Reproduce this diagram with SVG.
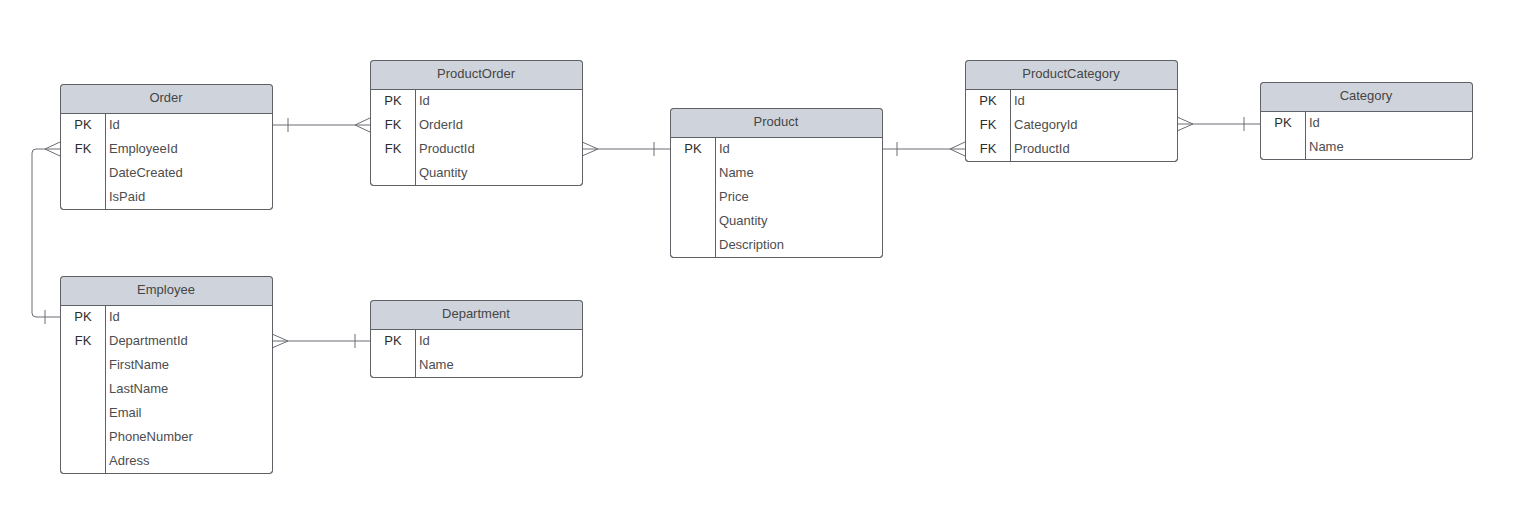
<svg xmlns="http://www.w3.org/2000/svg" width="1532" height="510" viewBox="0 0 1532 510">
<style>
.box{fill:#ffffff;stroke:#5f6166;stroke-width:1}
.frame{fill:none;stroke:#5f6166;stroke-width:1}
.hdr{fill:#cfd4dc;stroke:none}
.ln{stroke:#5f6166;stroke-width:1;fill:none}
.title{font-family:"Liberation Sans",Arial,sans-serif;font-size:13px;fill:#454545;text-anchor:middle}
.key{font-family:"Liberation Sans",Arial,sans-serif;font-size:13px;fill:#2e2e2e;text-anchor:middle}
.fld{font-family:"Liberation Sans",Arial,sans-serif;font-size:13px;fill:#4d4d4d}
.con{stroke:#6b6d72;stroke-width:1;fill:none}
</style>
<rect width="1532" height="510" fill="#ffffff"/>

<g id="connectors">
  <path class="con" d="M272 125 H370"/>
  <path class="con" d="M288 118 V132"/>
  <path class="con" d="M370 118 L355 125 L370 132"/>

  <path class="con" d="M582 149 H670"/>
  <path class="con" d="M582 142 L598 149 L582 156"/>
  <path class="con" d="M654 142 V156"/>

  <path class="con" d="M882 149 H965"/>
  <path class="con" d="M897 142 V156"/>
  <path class="con" d="M965 142 L950 149 L965 156"/>

  <path class="con" d="M1177 124 H1260"/>
  <path class="con" d="M1177 117 L1193 124 L1177 131"/>
  <path class="con" d="M1244 117 V131"/>

  <path class="con" d="M60 149 H36 Q32 149 32 153 V313 Q32 317 36 317 H60"/>
  <path class="con" d="M60 142 L45 149 L60 156"/>
  <path class="con" d="M45 310 V324"/>

  <path class="con" d="M272 341 H370"/>
  <path class="con" d="M272 334 L288 341 L272 348"/>
  <path class="con" d="M355 334 V348"/>
</g>

<g id="Order">
  <rect class="box" x="60.5" y="84.5" width="212" height="125" rx="3"/>
  <path class="hdr" d="M61 113 V87.5 Q61 85 63.5 85 H269.5 Q272 85 272 87.5 V113 Z"/>
  <path class="ln" d="M60.5 113.5 H272.5 M105.5 113.5 V209.5"/>
  <rect class="frame" x="60.5" y="84.5" width="212" height="125" rx="3"/>
  <text class="title" x="166" y="102">Order</text>
  <text class="key" x="83" y="128.5">PK</text>
  <text class="key" x="83" y="152.5">FK</text>
  <text class="fld" x="109" y="128.5">Id</text>
  <text class="fld" x="109" y="152.5">EmployeeId</text>
  <text class="fld" x="109" y="176.5">DateCreated</text>
  <text class="fld" x="109" y="200.5">IsPaid</text>
</g>

<g id="ProductOrder">
  <rect class="box" x="370.5" y="60.5" width="212" height="125" rx="3"/>
  <path class="hdr" d="M371 89 V63.5 Q371 61 373.5 61 H579.5 Q582 61 582 63.5 V89 Z"/>
  <path class="ln" d="M370.5 89.5 H582.5 M415.5 89.5 V185.5"/>
  <rect class="frame" x="370.5" y="60.5" width="212" height="125" rx="3"/>
  <text class="title" x="476" y="78">ProductOrder</text>
  <text class="key" x="393" y="104.5">PK</text>
  <text class="key" x="393" y="128.5">FK</text>
  <text class="key" x="393" y="152.5">FK</text>
  <text class="fld" x="419" y="104.5">Id</text>
  <text class="fld" x="419" y="128.5">OrderId</text>
  <text class="fld" x="419" y="152.5">ProductId</text>
  <text class="fld" x="419" y="176.5">Quantity</text>
</g>

<g id="Product">
  <rect class="box" x="670.5" y="108.5" width="212" height="149" rx="3"/>
  <path class="hdr" d="M671 137 V111.5 Q671 109 673.5 109 H879.5 Q882 109 882 111.5 V137 Z"/>
  <path class="ln" d="M670.5 137.5 H882.5 M715.5 137.5 V257.5"/>
  <rect class="frame" x="670.5" y="108.5" width="212" height="149" rx="3"/>
  <text class="title" x="776" y="126">Product</text>
  <text class="key" x="693" y="152.5">PK</text>
  <text class="fld" x="719" y="152.5">Id</text>
  <text class="fld" x="719" y="176.5">Name</text>
  <text class="fld" x="719" y="200.5">Price</text>
  <text class="fld" x="719" y="224.5">Quantity</text>
  <text class="fld" x="719" y="248.5">Description</text>
</g>

<g id="ProductCategory">
  <rect class="box" x="965.5" y="60.5" width="212" height="101" rx="3"/>
  <path class="hdr" d="M966 89 V63.5 Q966 61 968.5 61 H1174.5 Q1177 61 1177 63.5 V89 Z"/>
  <path class="ln" d="M965.5 89.5 H1177.5 M1010.5 89.5 V161.5"/>
  <rect class="frame" x="965.5" y="60.5" width="212" height="101" rx="3"/>
  <text class="title" x="1071" y="78">ProductCategory</text>
  <text class="key" x="988" y="104.5">PK</text>
  <text class="key" x="988" y="128.5">FK</text>
  <text class="key" x="988" y="152.5">FK</text>
  <text class="fld" x="1014" y="104.5">Id</text>
  <text class="fld" x="1014" y="128.5">CategoryId</text>
  <text class="fld" x="1014" y="152.5">ProductId</text>
</g>

<g id="Category">
  <rect class="box" x="1260.5" y="82.5" width="212" height="77" rx="3"/>
  <path class="hdr" d="M1261 111 V85.5 Q1261 83 1263.5 83 H1469.5 Q1472 83 1472 85.5 V111 Z"/>
  <path class="ln" d="M1260.5 111.5 H1472.5 M1305.5 111.5 V159.5"/>
  <rect class="frame" x="1260.5" y="82.5" width="212" height="77" rx="3"/>
  <text class="title" x="1366" y="100">Category</text>
  <text class="key" x="1283" y="126.5">PK</text>
  <text class="fld" x="1309" y="126.5">Id</text>
  <text class="fld" x="1309" y="150.5">Name</text>
</g>

<g id="Employee">
  <rect class="box" x="60.5" y="276.5" width="212" height="197" rx="3"/>
  <path class="hdr" d="M61 305 V279.5 Q61 277 63.5 277 H269.5 Q272 277 272 279.5 V305 Z"/>
  <path class="ln" d="M60.5 305.5 H272.5 M105.5 305.5 V473.5"/>
  <rect class="frame" x="60.5" y="276.5" width="212" height="197" rx="3"/>
  <text class="title" x="166" y="294">Employee</text>
  <text class="key" x="83" y="320.5">PK</text>
  <text class="key" x="83" y="344.5">FK</text>
  <text class="fld" x="109" y="320.5">Id</text>
  <text class="fld" x="109" y="344.5">DepartmentId</text>
  <text class="fld" x="109" y="368.5">FirstName</text>
  <text class="fld" x="109" y="392.5">LastName</text>
  <text class="fld" x="109" y="416.5">Email</text>
  <text class="fld" x="109" y="440.5">PhoneNumber</text>
  <text class="fld" x="109" y="464.5">Adress</text>
</g>

<g id="Department">
  <rect class="box" x="370.5" y="300.5" width="212" height="77" rx="3"/>
  <path class="hdr" d="M371 329 V303.5 Q371 301 373.5 301 H579.5 Q582 301 582 303.5 V329 Z"/>
  <path class="ln" d="M370.5 329.5 H582.5 M415.5 329.5 V377.5"/>
  <rect class="frame" x="370.5" y="300.5" width="212" height="77" rx="3"/>
  <text class="title" x="476" y="318">Department</text>
  <text class="key" x="393" y="344.5">PK</text>
  <text class="fld" x="419" y="344.5">Id</text>
  <text class="fld" x="419" y="368.5">Name</text>
</g>
</svg>
